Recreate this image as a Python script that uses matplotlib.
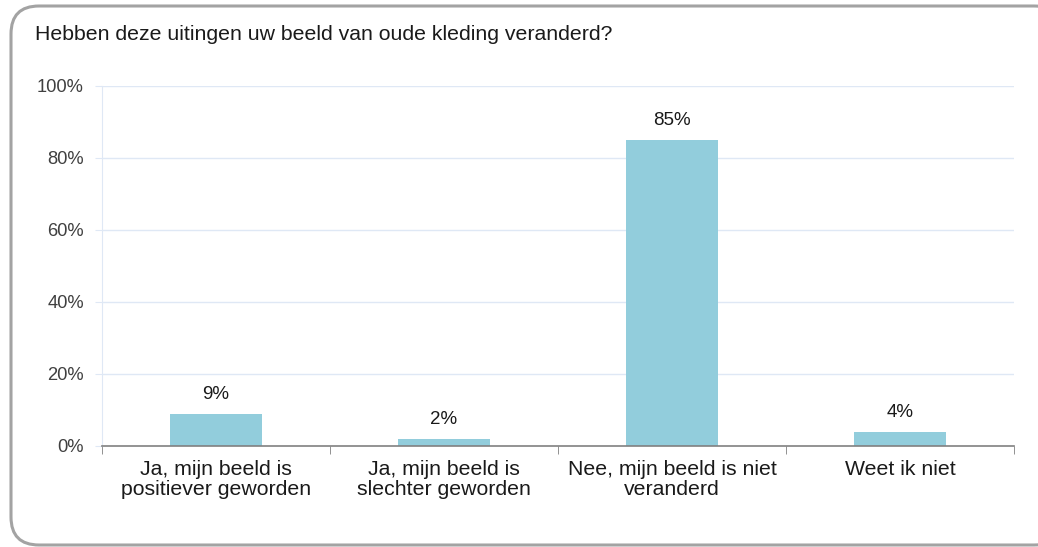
import numpy as np
from matplotlib import pyplot as plt
from matplotlib.patches import FancyBboxPatch

# data
categories = ["Ja, mijn beeld is\npositiever geworden",
              "Ja, mijn beeld is\nslechter geworden",
              "Nee, mijn beeld is niet\nveranderd",
              "Weet ik niet"]
values = [9, 2, 85, 4]
yticks = [0, 20, 40, 60, 80, 100]

plt.rcParams['font.family'] = ['Liberation Sans', 'DejaVu Sans']

W, H = 1038, 547
fig = plt.figure(figsize=(W / 100, H / 100), dpi=100)

# rounded frame (right side runs off the image)
box = FancyBboxPatch((11 / W, 1 - 545 / H), (1062 - 11) / W, (545 - 6) / H,
                     boxstyle="round,pad=0,rounding_size=0.027",
                     transform=fig.transFigure, fc="white", ec="#a3a3a3", lw=2.2,
                     mutation_aspect=W / H, zorder=-5)
fig.patches.append(box)

fig.text(35 / W, 1 - 34 / H, "Hebben deze uitingen uw beeld van oude kleding veranderd?",
         fontsize=15.3, color="#1a1a1a", va="center", ha="left")

ax = fig.add_axes([102 / W, 1 - 446 / H, (1014 - 102) / W, (446 - 86) / H])
ax.set_facecolor("none")
x = np.arange(len(categories))
ax.bar(x, values, width=0.4, color="#92cddc", zorder=2)
for xi, v in zip(x, values):
    ax.text(xi, v + 3, f"{v}%", ha="center", va="bottom", fontsize=13.5, color="#1a1a1a")

ax.set_xlim(-0.5, len(categories) - 0.5)
ax.set_ylim(0, 100)
ax.set_yticks(yticks)
ax.set_yticklabels([f"{t}%" for t in yticks], fontsize=13.2, color="#404040")
for t in yticks[1:]:
    ax.axhline(t, color="#dfe8f5", lw=1, zorder=1)

ax.set_xticks(x)
ax.set_xticklabels(categories, fontsize=15.3, color="#1a1a1a", linespacing=1.1)
ax.tick_params(axis="x", length=0, pad=10)
ax.set_xticks(np.arange(-0.5, len(categories)), minor=True)
ax.tick_params(axis="x", which="minor", length=6, color="#808080", direction="out")
ax.tick_params(axis="y", length=5, color="#dfe8f5", pad=8)

for s in ["top", "right"]:
    ax.spines[s].set_visible(False)
ax.spines["left"].set_color("#dfe8f5")
ax.spines["bottom"].set_color("#808080")
ax.spines["bottom"].set_linewidth(1.2)

fig.savefig("out.png", dpi=100)
